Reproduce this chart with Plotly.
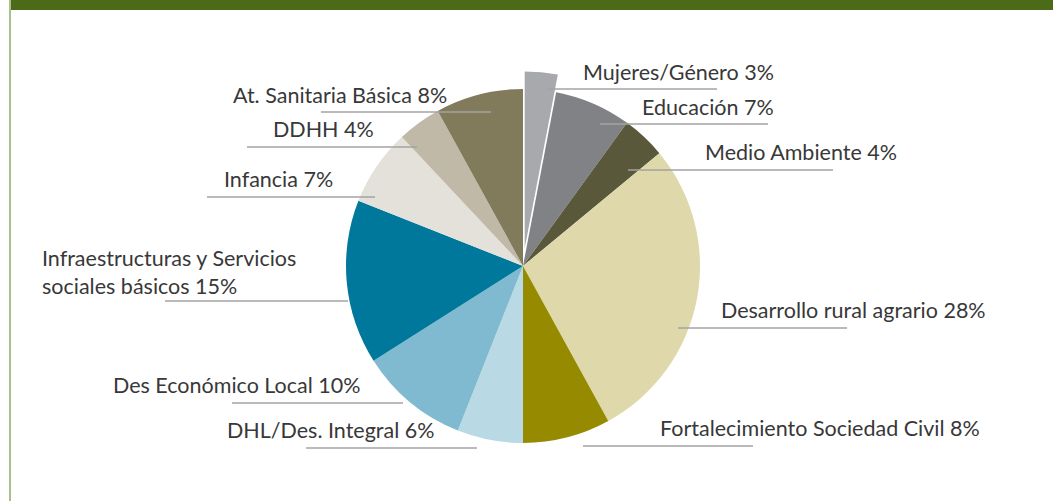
import plotly.graph_objects as go

# ---- data ----
categories = ["Mujeres/Género", "Educación", "Medio Ambiente", "Desarrollo rural agrario",
              "Fortalecimiento Sociedad Civil", "DHL/Des. Integral", "Des Económico Local",
              "Infraestructuras y Servicios<br>sociales básicos", "Infancia", "DDHH",
              "At. Sanitaria Básica"]
values = [3, 7, 4, 28, 8, 6, 10, 15, 7, 4, 8]
pulls = [0.1, 0, 0, 0, 0, 0, 0, 0, 0, 0, 0]
colors = ["#a7a9ac", "#808285", "#5a583a", "#dfd8ab", "#958a00", "#b9dae4",
          "#7fbad0", "#00789b", "#e4e1da", "#c1b9a8", "#817a5b"]

# ---- label layout (pixels): text anchor side, text x, text y center, line x0, x1, y ----
W, H = 1053, 501
label_layout = [
    ("right", 776, 72, 547, 717, 89),
    ("right", 776, 107, 600, 768, 124),
    ("right", 899, 152, 628, 833, 170),
    ("right", 988, 310, 678, 847, 328),
    ("right", 982, 428, 583, 753, 446),
    ("right", 436, 430, 306, 477, 448),
    ("right", 362, 385, 232, 403, 403),
    ("left", 40, 272, 165, 348, 301),
    ("right", 335, 179, 207, 375, 197),
    ("right", 376, 129, 247, 417, 147),
    ("right", 449, 95, 321, 491, 112),
]

cx, cy, r = 523, 266, 177
half = r * (1 + max(pulls))

fig = go.Figure(go.Pie(
    labels=categories, values=values, pull=pulls, sort=False,
    direction="clockwise", rotation=0,
    marker=dict(colors=colors, line=dict(width=0)),
    textinfo="none", hoverinfo="label+percent", showlegend=False,
    domain=dict(x=[(cx - half) / W, (cx + half) / W],
                y=[1 - (cy + half) / H, 1 - (cy - half) / H]),
))

def px(x):
    return x / W

def py(y):
    return 1 - y / H

shapes = [
    dict(type="rect", xref="paper", yref="paper", x0=px(10), x1=1, y0=py(10), y1=1,
         fillcolor="#4c6b19", line=dict(width=0), layer="above"),
    dict(type="line", xref="paper", yref="paper", x0=px(10), x1=px(10), y0=0, y1=1,
         line=dict(color="#a9c08b", width=2)),
]
annotations = []
for cat, v, (side, tx, ty, lx0, lx1, ly) in zip(categories, values, label_layout):
    shapes.append(dict(type="line", xref="paper", yref="paper",
                       x0=px(lx0), x1=px(lx1), y0=py(ly), y1=py(ly),
                       line=dict(color="#a3a3a3", width=1.5), layer="above"))
    annotations.append(dict(
        text=f"{cat} {v}%", xref="paper", yref="paper", x=px(tx), y=py(ty),
        xanchor=side, yanchor="middle", showarrow=False, align="left",
        font=dict(family="Lato", size=21.5, color="#383838")))

fig.update_layout(
    width=W, height=H, margin=dict(l=0, r=0, t=0, b=0),
    paper_bgcolor="white", plot_bgcolor="white",
    shapes=shapes, annotations=annotations,
)

fig.write_html("out.html", config={"displayModeBar": False},
               post_script="document.body.style.margin='0';document.body.style.overflow='hidden';")
